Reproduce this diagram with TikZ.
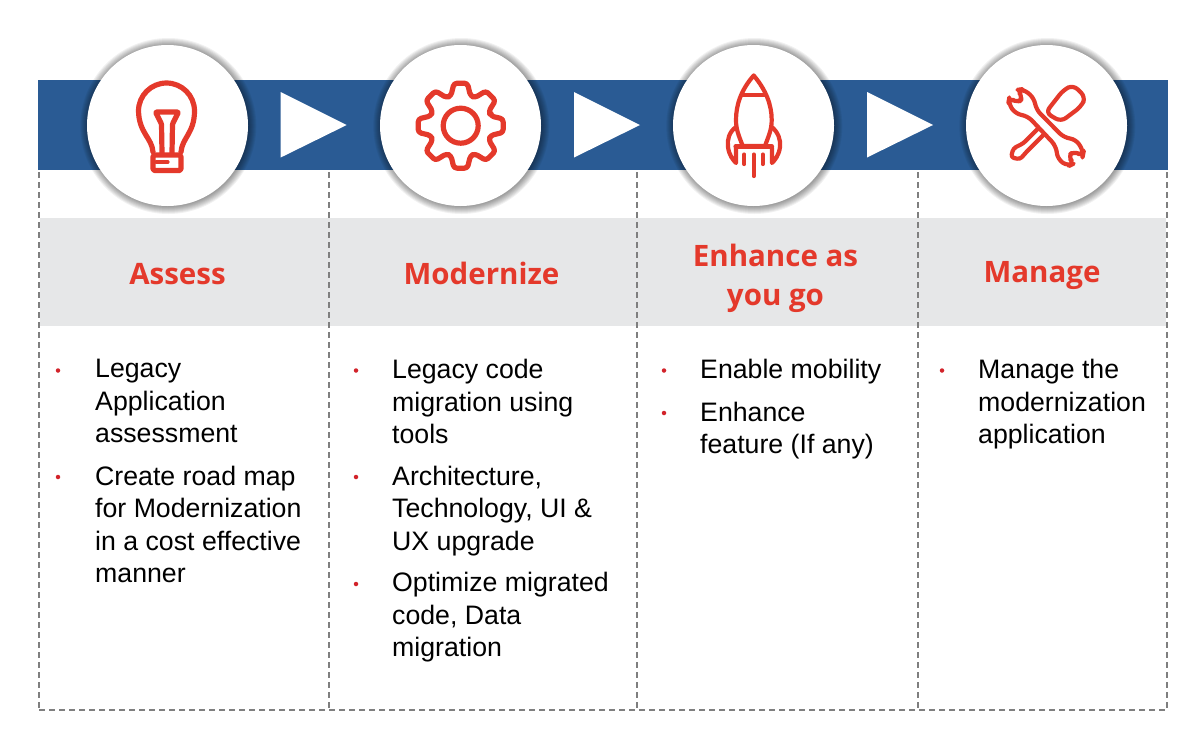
\documentclass[tikz,border=0pt]{standalone}
\usepackage{fontspec}
\setmainfont{Liberation Sans}
\newfontfamily\headfont{Open Sans}
\usetikzlibrary{calc}
\definecolor{bandblue}{HTML}{2A5B94}
\definecolor{iconred}{HTML}{E4392B}
\definecolor{bulred}{HTML}{D2232A}
\definecolor{headgray}{HTML}{E6E7E8}
\definecolor{dashgray}{HTML}{7F7F7F}
\tikzset{
  icon/.style={draw=iconred,line width=5.2pt,line cap=round,line join=round},
  thinicon/.style={icon,line width=4.2pt},
  disc/.style={circle,fill=white,minimum size=161pt,inner sep=0pt},
  tri/.style={fill=white},
  sep/.style={draw=dashgray,line width=2.2pt,dash pattern=on 6pt off 4pt},
  head/.style={font=\headfont\fontsize{29.5}{39}\selectfont\bfseries,text=iconred,align=center,anchor=center},
  headb/.style={font=\headfont\fontsize{29.5}{39}\selectfont\bfseries,text=iconred,anchor=base},
  body/.style={font=\fontsize{26.7}{32.5}\selectfont,text=black,align=left,anchor=north west,inner sep=0pt},
  bul/.style={circle,fill=bulred,minimum size=4.5pt,inner sep=0pt}
}
\begin{document}
\begin{tikzpicture}[x=1pt,y=-1pt]
\useasboundingbox (0,0) rectangle (1200,750);
\fill[white] (0,0) rectangle (1200,750);
% band
\fill[bandblue] (38,79.5) rectangle (1168,170);
% gray band
\fill[headgray] (40,218) rectangle (1166,326);
% separators
\foreach \x in {39,329,637,918,1167}{
  \coordinate (t\x) at (\x,172);
  \coordinate (b\x) at (\x,710);
  \draw[sep] (t\x) -- (b\x);
}
\coordinate (bl) at (39,710);
\coordinate (br) at (1167,710);
\draw[sep] (bl) -- (br);
% triangles
\foreach \x in {280.7,574,867}{
  \fill[tri] (\x,92) -- (\x+66,125) -- (\x,157.5) -- cycle;
}
% discs with soft shadow
\foreach \cx/\nm in {167.5/c1,460.5/c2,753.5/c3,1046.5/c4}{
  \foreach \r in {88,87,86,85,84,83,82,81}{
    \fill[black,opacity=0.055] (\cx+0.8,126) circle[radius=\r];
  }
  \node[disc] (\nm) at (\cx,125.5) {};
}
% bulb
\draw[icon] (153,152) .. controls (152,138) and (139,133) .. (138.5,111)
  arc[start angle=180,end angle=360,radius=28] .. controls (194.5,133) and (182,138) .. (181,152);
\draw[icon,rounded corners=1pt] (162,153) -- (161.5,124) -- (155.5,112) -- (178.5,112) -- (172.5,124) -- (172,153);
\draw[icon,rounded corners=1.5pt] (153,155) -- (181,155) -- (181,170.5) -- (153,170.5) -- cycle;
\draw[icon,line width=3.2pt] (156,162) -- (168,162);
% gear
\begin{scope}[shift={(460.7,125.7)}]
\draw[icon,rounded corners=3pt] (-18:31.5)
  \foreach \a in {0,45,...,315}{ -- (\a-18:31.5) -- (\a-9:43) -- (\a+9:43) -- (\a+18:31.5) } -- cycle;
\draw[icon] (0,0) circle[radius=17.5];
\end{scope}
% rocket
\draw[thinicon] (753.7,75.5) .. controls (741,90) and (736,105) .. (736,120)
  .. controls (736,130) and (739,136) .. (742.7,146)
  -- (765,146) .. controls (768.5,136) and (771.7,130) .. (771.7,120)
  .. controls (771.7,105) and (766,90) .. (753.7,75.5);
\draw[thinicon] (742,95) -- (765.5,95);
\draw[thinicon] (735.5,146.5) -- (772,146.5);
\draw[thinicon] (736,127) .. controls (729,132) and (727,140) .. (728,147) .. controls (729,155) and (733,160) .. (736,163) -- (736,148);
\draw[thinicon] (771.7,127) .. controls (778,132) and (781,140) .. (780,147) .. controls (779,155) and (775,160) .. (772,163) -- (772,148);
\draw[thinicon] (744.3,154.5) -- (744.3,164);
\draw[thinicon] (762.7,154.5) -- (762.7,164);
\draw[thinicon] (753.7,154.5) -- (753.7,176);
% tools
\begin{scope}[shift={(955,40)},x=0.3333pt,y=-0.3333pt]
\draw[thinicon,fill=white,rounded corners=6pt] (272,218) -- (325,150) -- (355,135) -- (392,172) -- (378,200) -- (318,245) -- cycle;
\draw[thinicon,fill=white,rounded corners=3pt] (265,250) -- (205,310) -- (175,325) -- (168,352) -- (195,358) -- (215,335) -- (275,275) -- cycle;
\draw[thinicon,fill=white,rounded corners=6pt] (218,228) -- (182,222) -- (160,190) -- (163,172) -- (188,190) -- (205,172) -- (185,150) -- (205,147) -- (238,175) -- (243,208) -- (327,293) -- (363,298) -- (386,335) -- (383,350) -- (358,332) -- (338,350) -- (358,370) -- (340,379) -- (308,358) -- (303,318) -- cycle;
\end{scope}
% headings
\node[headb] (h1) at (177.5,284) {Assess};
\node[headb] (h2) at (481.5,284) {Modernize};
\node[head] (h3) at (775.5,278) {Enhance as\\you go};
\node[headb] (h4) at (1042,282) {Manage};
% column 1
\node[bul] (b11) at (58,370.5) {};
\node[body] (t11) at (95,359) {Legacy\\Application\\assessment};
\node[bul] (b12) at (58,477) {};
\node[body] (t12) at (95,465.5) {Create road map\\for Modernization\\in a cost effective\\manner};
% column 2
\node[bul] (b21) at (356,370.5) {};
\node[body] (t21) at (392,359) {Legacy code\\migration using\\tools};
\node[bul] (b22) at (356,477) {};
\node[body] (t22) at (392,465.5) {Architecture,\\Technology, UI \&\\UX upgrade};
\node[bul] (b23) at (356,584) {};
\node[body] (t23) at (392,572) {Optimize migrated\\code, Data\\migration};
% column 3
\node[bul] (b31) at (664,370.5) {};
\node[body] (t31) at (700,359) {Enable mobility};
\node[bul] (b32) at (664,413) {};
\node[body] (t32) at (700,401.5) {Enhance\\feature (If any)};
% column 4
\node[bul] (b41) at (942,370.5) {};
\node[body] (t41) at (978,359) {Manage the\\modernization\\application};
\end{tikzpicture}
\end{document}
